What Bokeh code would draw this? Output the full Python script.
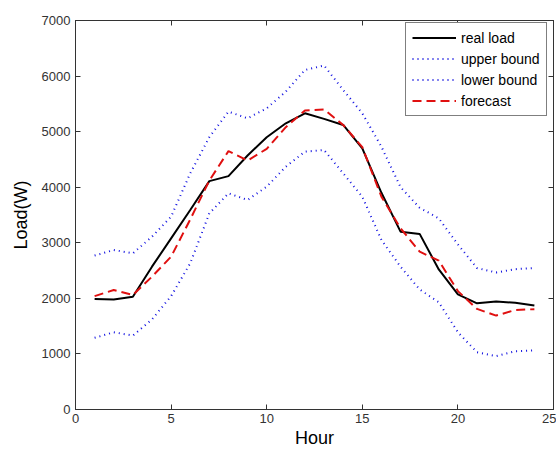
from bokeh.plotting import figure
from bokeh.models import LinearAxis, FixedTicker, Legend, LegendItem, Range1d
from bokeh.embed import file_html
from bokeh.resources import INLINE

hours = list(range(1, 25))
real_load = [1990, 1980, 2030, 2570, 3080, 3590, 4110, 4200, 4570, 4900, 5150, 5330,
             5230, 5120, 4700, 3900, 3200, 3160, 2520, 2070, 1910, 1945, 1920, 1870]
forecast = [2040, 2150, 2060, 2390, 2750, 3420, 4120, 4650, 4480, 4690, 5080, 5380,
            5400, 5120, 4720, 3830, 3260, 2840, 2680, 2130, 1810, 1690, 1790, 1805]
upper_bound = [2770, 2870, 2810, 3110, 3470, 4250, 4900, 5360, 5240, 5420, 5720, 6110,
               6190, 5750, 5330, 4730, 4000, 3630, 3440, 2970, 2545, 2465, 2525, 2545]
lower_bound = [1290, 1390, 1330, 1620, 2040, 2630, 3530, 3890, 3770, 4010, 4370, 4640,
               4670, 4250, 3830, 3050, 2570, 2160, 1930, 1390, 1030, 960, 1047, 1065]
x_ticks = [0, 5, 10, 15, 20, 25]
y_ticks = [0, 1000, 2000, 3000, 4000, 5000, 6000, 7000]

FONT = "Liberation Sans"

p = figure(width=556, height=450, output_backend="svg", toolbar_location=None,
           x_range=Range1d(0, 25), y_range=Range1d(0, 7000),
           min_border_left=75, min_border_right=3, min_border_top=20, min_border_bottom=40)
p.xgrid.visible = False
p.ygrid.visible = False
p.outline_line_color = "#333333"
p.outline_line_width = 1
p.background_fill_color = "white"

def style_axis(ax, labels=True):
    ax.major_tick_in = 5
    ax.major_tick_out = 0
    ax.minor_tick_in = 0
    ax.minor_tick_out = 0
    ax.axis_line_color = "#333333"
    ax.major_tick_line_color = "#333333"
    ax.major_label_text_font = FONT
    ax.major_label_text_font_size = "13px"
    ax.major_label_text_color = "#333333"
    ax.axis_label_text_font = FONT
    ax.axis_label_text_font_size = "18px"
    ax.axis_label_text_font_style = "normal"
    ax.axis_label_text_color = "black"
    if not labels:
        ax.major_label_text_font_size = "0px"
        ax.major_label_text_alpha = 0

p.xaxis.ticker = FixedTicker(ticks=x_ticks)
p.yaxis.ticker = FixedTicker(ticks=y_ticks)
style_axis(p.xaxis[0])
style_axis(p.yaxis[0])
p.xaxis.axis_label = "Hour"
p.yaxis.axis_label = "Load(W)"
p.xaxis.major_label_standoff = 4
p.yaxis.major_label_standoff = 5
p.xaxis.axis_label_standoff = 2
p.yaxis.axis_label_standoff = 8

top = LinearAxis(ticker=FixedTicker(ticks=x_ticks))
style_axis(top, labels=False)
p.add_layout(top, "above")
right = LinearAxis(ticker=FixedTicker(ticks=y_ticks))
style_axis(right, labels=False)
p.add_layout(right, "right")

r_real = p.line(hours, real_load, line_color="black", line_width=2)
r_up = p.line(hours, upper_bound, line_color="#1010e0", line_width=2, line_dash="1 4")
r_low = p.line(hours, lower_bound, line_color="#1010e0", line_width=2, line_dash="1 4")
r_fc = p.line(hours, forecast, line_color="#e01010", line_width=2, line_dash="9 5")

legend = Legend(items=[
    LegendItem(label="real load", renderers=[r_real]),
    LegendItem(label="upper bound", renderers=[r_up]),
    LegendItem(label="lower bound", renderers=[r_low]),
    LegendItem(label="forecast", renderers=[r_fc]),
], location=(330, 293), margin=0)
legend.label_text_font = FONT
legend.label_text_font_size = "14px"
legend.label_text_color = "black"
legend.glyph_width = 44
legend.glyph_height = 17
legend.label_height = 17
legend.spacing = 4
legend.padding = 6
legend.label_standoff = 5
legend.border_line_color = "black"
legend.border_line_width = 1
legend.background_fill_color = "white"
legend.background_fill_alpha = 1
p.add_layout(legend, "center")

open("out.html", "w").write(file_html(p, INLINE))
